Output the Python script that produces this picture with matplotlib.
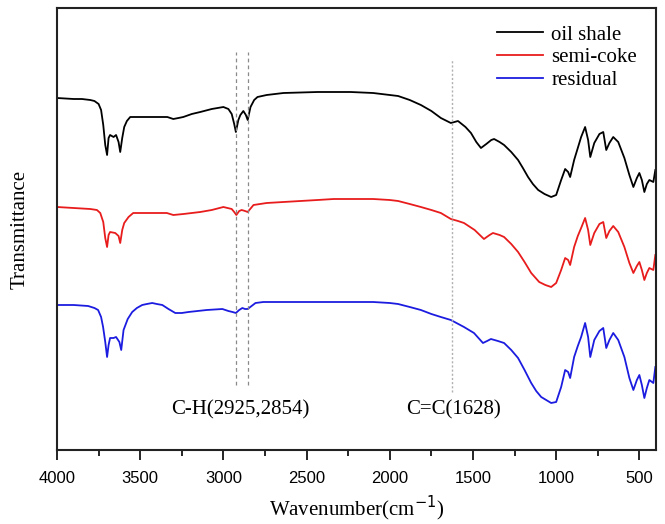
import matplotlib
matplotlib.use("Agg")
import matplotlib.pyplot as plt
import numpy as np

# ---- data (arbitrary transmittance units) ----
oil_w = [4000, 3900, 3850, 3800, 3775, 3750, 3735, 3722, 3710, 3699, 3690, 3681, 3660, 3645, 3630,
         3620, 3608, 3596, 3580, 3560, 3530, 3500, 3450, 3400, 3337, 3301, 3270, 3241, 3190, 3139,
         3070, 3000, 2970, 2950, 2935, 2925, 2910, 2898, 2880, 2865, 2854, 2837, 2815, 2795, 2740,
         2639, 2434, 2235, 2100, 2000, 1950, 1880, 1813, 1750, 1693, 1633, 1590, 1545, 1512, 1480,
         1452, 1420, 1390, 1373, 1340, 1313, 1270, 1229, 1200, 1169, 1140, 1108, 1070, 1030, 1000,
         970, 946, 928, 916, 892, 870, 850, 826, 808, 795, 771, 740, 717, 699, 680, 657, 627, 590,
         560, 536, 515, 500, 485, 470, 455, 440, 416, 404]
oil_t = [352, 351, 351, 350, 349, 346, 340, 325, 305, 295, 312, 315, 313, 315, 308,
         298, 312, 323, 329, 333, 333, 333, 333, 333, 333, 331, 332, 333, 336, 338,
         341, 343, 341, 336, 326, 318, 330, 335, 339, 335, 330, 343, 350, 353, 355,
         357, 358, 358, 357, 355, 354, 350, 345, 339, 332, 327, 329, 323, 317, 308,
         302, 306, 310, 311, 308, 305, 298, 290, 282, 273, 266, 260, 256, 253, 255,
         270, 281, 278, 273, 290, 302, 313, 323, 310, 293, 307, 316, 318, 300, 307, 313, 308, 292,
         275, 263, 272, 277, 270, 258, 266, 270, 268, 280]

semi_w = [4000, 3900, 3800, 3760, 3740, 3722, 3710, 3699, 3690, 3681, 3650, 3630, 3620, 3608, 3596,
          3570, 3542, 3500, 3440, 3380, 3340, 3301, 3240, 3139, 3070, 3000, 2950, 2935, 2922, 2905,
          2890, 2870, 2854, 2819, 2740, 2639, 2434, 2337, 2200, 2100, 2000, 1950, 1880, 1813, 1750,
          1693, 1633, 1590, 1554, 1490, 1434, 1400, 1380, 1340, 1313, 1270, 1229, 1190, 1150, 1102,
          1065, 1030, 1000, 970, 946, 928, 916, 892, 870, 850, 826, 808, 795, 771, 740, 717, 699,
          680, 657, 627, 590, 560, 536, 515, 500, 485, 470, 455, 440, 416, 404]
semi_t = [243, 242, 241, 240, 237, 228, 212, 203, 215, 218, 217, 214, 207, 220, 227,
          233, 237, 237, 237, 237, 237, 235, 236, 238, 240, 243, 241, 238, 235, 239,
          240, 239, 238, 245, 247, 248, 250, 251, 251, 251, 250, 249, 246, 243, 240,
          237, 231, 229, 227, 220, 211, 215, 217, 215, 213, 206, 198, 188, 177, 168,
          165, 163, 167, 180, 192, 190, 185, 203, 214, 222, 232, 220, 205, 217, 226, 228, 212,
          219, 224, 218, 203, 187, 177, 184, 188, 180, 170, 177, 182, 180, 195]

res_w = [4000, 3900, 3813, 3775, 3753, 3735, 3723, 3710, 3699, 3690, 3681, 3660, 3645, 3625,
         3614, 3600, 3575, 3548, 3520, 3488, 3460, 3428, 3400, 3367, 3330, 3289, 3250, 3210, 3100,
         3006, 2970, 2945, 2925, 2905, 2886, 2870, 2854, 2807, 2760, 2699, 2536, 2300, 2100, 2000,
         1950, 1880, 1813, 1750, 1693, 1633, 1554, 1494, 1440, 1415, 1392, 1350, 1313, 1270, 1229,
         1190, 1150, 1120, 1090, 1060, 1030, 1000, 970, 946, 928, 916, 892, 870, 850, 826, 808, 795,
         771, 740, 717, 699, 680, 657, 627, 590, 560, 536, 515, 500, 485, 470, 455, 440, 416, 404]
res_t = [145, 145, 144, 142, 140, 133, 123, 108, 93, 105, 112, 112, 113, 108,
         100, 120, 131, 138, 142, 145, 146, 147, 146, 145, 141, 137, 137, 138, 140,
         141, 139, 138, 137, 140, 142, 141, 141, 147, 148, 148, 148, 148, 148, 147,
         146, 143, 140, 136, 133, 130, 123, 117, 107, 109, 111, 109, 107, 100, 92,
         80, 67, 59, 53, 50, 47, 48, 63, 80, 78, 72, 93, 104, 113, 127, 113, 93,
         110, 119, 122, 102, 110, 117, 110, 93, 72, 60, 70, 75, 65, 52, 62, 70, 67, 83]

labels = ["oil shale", "semi-coke", "residual"]
colors = ["black", "#e81c1c", "#1c1ce0"]
xticks = [4000, 3500, 3000, 2500, 2000, 1500, 1000, 500]

serif = "Liberation Serif"
sans = "Liberation Sans"

fig = plt.figure(figsize=(6.65, 5.24), dpi=100)
ax = fig.add_axes([57/665, 1-450/524, (656-57)/665, (450-8)/524])

for w, t, lab, c in zip([oil_w, semi_w, res_w], [oil_t, semi_t, res_t], labels, colors):
    ax.plot(w, t, color=c, lw=1.3, label=lab, solid_joinstyle="round")

ax.vlines([2925, 2854], 65, 398, colors="#8a8a8a", linestyles=(0, (3, 2.5)), lw=0.9)
ax.vlines([1628], 58, 390, colors="#b0b0b0", linestyles=(0, (1.5, 1.5)), lw=1.0)

ax.text(2898, 40, "C-H(2925,2854)", ha="center", va="center", fontsize=15, family=serif)
ax.text(1620, 40, "C=C(1628)", ha="center", va="center", fontsize=15, family=serif)

ax.set_xlim(4000, 400)
ax.set_ylim(0, 442)
ax.set_xticks(xticks)
ax.set_xticks(np.arange(3750, 400, -500), minor=True)
ax.set_yticks([])
ax.tick_params(axis="x", which="major", direction="out", length=7, width=1.2, labelsize=12, pad=8)
ax.tick_params(axis="x", which="minor", direction="out", length=4, width=1.2)
for lab in ax.get_xticklabels():
    lab.set_family(sans)
for s in ax.spines.values():
    s.set_linewidth(1.5)
    s.set_color("#222222")

ax.set_xlabel("Wavenumber(cm$^{-1}$)", fontsize=15, family=serif, labelpad=6)
ax.set_ylabel("Transmittance", fontsize=15, family=serif, labelpad=20)

leg = ax.legend(loc="upper left", bbox_to_anchor=((497-57)/599, (450-25)/442), frameon=False,
                borderpad=0, borderaxespad=0, handlelength=2.2, handletextpad=0.4,
                labelspacing=0.15, prop={"family": serif, "size": 15})

fig.savefig("out.png", dpi=100)
